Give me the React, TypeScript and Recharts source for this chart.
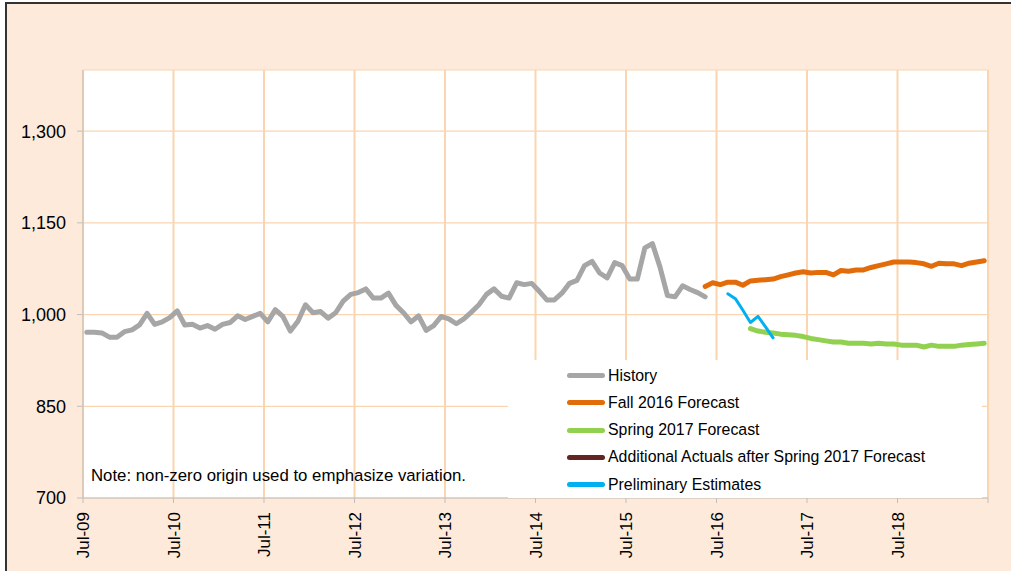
import React from 'react';
import { LineChart, Line, XAxis, YAxis, CartesianGrid, Legend } from 'recharts';

const tickLabels = ['Jul-09', 'Jul-10', 'Jul-11', 'Jul-12', 'Jul-13', 'Jul-14', 'Jul-15', 'Jul-16', 'Jul-17', 'Jul-18'];
const yTicks = [700, 850, 1000, 1150, 1300];
const seriesNames = [
  'History',
  'Fall 2016 Forecast',
  'Spring 2017 Forecast',
  'Additional Actuals after Spring 2017 Forecast',
  'Preliminary Estimates',
];

const history = [
  971, 971, 970, 963, 963, 972, 975, 983, 1002, 984, 988, 995,
  1006, 983, 984, 978, 982, 976, 984, 987, 998, 992, 997, 1002,
  988, 1008, 997, 973, 989, 1016, 1003, 1005, 994, 1003, 1022, 1033,
  1036, 1042, 1027, 1027, 1035, 1015, 1003, 988, 998, 974, 982, 997,
  993, 985, 993, 1004, 1016, 1033, 1042, 1030, 1027, 1052, 1049, 1051,
  1038, 1024, 1024, 1035, 1051, 1056, 1080, 1087, 1068, 1060, 1085, 1080,
  1058, 1058, 1109, 1116, 1078, 1031, 1029, 1047, 1041, 1036, 1029,
];
const fall2016 = [
  1046, 1052, 1049, 1053, 1053, 1048, 1055, 1056, 1057, 1058, 1062, 1065,
  1068, 1070, 1068, 1069, 1069, 1065, 1072, 1071, 1073, 1073, 1077, 1080,
  1083, 1086, 1086, 1086, 1085, 1083, 1079, 1084, 1083, 1083, 1080, 1084,
  1086, 1088,
];
const spring2017 = [
  977, 973, 971, 970, 968, 967, 966, 964, 961, 959, 957, 955,
  955, 953, 953, 953, 952, 953, 952, 952, 950, 950, 950, 947,
  950, 948, 948, 948, 950, 951, 952, 953,
];
const additionalActuals: number[] = [];
const preliminary = [1034, 1026, 1007, 987, 997, 980, 962];

const HISTORY_START = 0;
const FALL_START = 82;
const SPRING_START = 88;
const ADDITIONAL_START = 119;
const PRELIM_START = 85;
const MONTHS = 120;

const pick = (arr: number[], start: number, k: number) => {
  const v = arr[k - start];
  return v === undefined ? null : v;
};

const data = Array.from({ length: MONTHS }, (_, k) => ({
  t: k + 0.5,
  history: pick(history, HISTORY_START, k),
  fall: pick(fall2016, FALL_START, k),
  spring: pick(spring2017, SPRING_START, k),
  additional: pick(additionalActuals, ADDITIONAL_START, k),
  prelim: pick(preliminary, PRELIM_START, k),
}));

const xTicks = Array.from({ length: tickLabels.length + 1 }, (_, i) => i * 12);

const FONT = '"Liberation Sans", Arial, sans-serif';
const GRID = '#FAD5B0';

const XTick = (props: any) => {
  const { x, y, payload } = props;
  const label = tickLabels[payload.value / 12] ?? '';
  return (
    <text
      x={x}
      y={y}
      transform={`rotate(-90, ${x}, ${y})`}
      textAnchor="end"
      dy="0.36em"
      fontSize={17}
      fontFamily={FONT}
      fill="#000"
    >
      {label}
    </text>
  );
};

const renderLegend = (props: any) => {
  const items = [...(props.payload || [])].sort(
    (a: any, b: any) => seriesNames.indexOf(a.value) - seriesNames.indexOf(b.value)
  );
  return (
    <div style={{ width: 474, height: 138, background: '#fff', position: 'relative', fontFamily: FONT }}>
      {items.map((p: any, i: number) => (
        <div
          key={i}
          style={{
            position: 'absolute',
            left: 59,
            top: 15.5 + i * 27.3 - 10,
            height: 20,
            display: 'flex',
            alignItems: 'center',
            whiteSpace: 'nowrap',
          }}
        >
          <span style={{ display: 'inline-block', width: 38, height: 5, borderRadius: 2.5, background: p.color }} />
          <span style={{ marginLeft: 3, fontSize: 15.85, color: '#000' }}>{p.value}</span>
        </div>
      ))}
    </div>
  );
};

export default function App() {
  return (
    <div style={{ position: 'absolute', left: 0, top: 0, width: 1011, height: 571, background: '#fff', overflow: 'hidden' }}>
      <div
        style={{
          position: 'absolute',
          left: 5,
          top: 2,
          width: 1006,
          height: 569,
          background: '#FDEADA',
          borderLeft: '2px solid #333',
          borderTop: '2px solid #333',
          boxSizing: 'border-box',
        }}
      />
      <div style={{ position: 'absolute', left: 0, top: 0 }}>
        <LineChart width={1011} height={571} data={data} margin={{ top: 70, right: 23, bottom: 0, left: 0 }}>
          <CartesianGrid horizontal={true} vertical={false} fill="#fff" stroke={GRID} strokeWidth={1.2} />
          <CartesianGrid horizontal={false} vertical={true} stroke={GRID} strokeWidth={2} />
          <XAxis
            dataKey="t"
            type="number"
            domain={[0, 120]}
            ticks={xTicks}
            interval={0}
            height={73}
            tickSize={5}
            tickMargin={9}
            tick={<XTick />}
            axisLine={{ stroke: '#BFBFBF' }}
            tickLine={{ stroke: '#BFBFBF' }}
          />
          <YAxis
            type="number"
            domain={[700, 1400]}
            ticks={yTicks}
            interval={0}
            width={83}
            tickSize={6}
            tickMargin={11}
            tickFormatter={(v: number) => v.toLocaleString('en-US')}
            tick={{ fontSize: 18, fontFamily: FONT, fill: '#000' }}
            axisLine={{ stroke: '#BFBFBF' }}
            tickLine={{ stroke: '#BFBFBF' }}
          />
          <Legend
            layout="vertical"
            align="center"
            verticalAlign="middle"
            content={renderLegend}
            wrapperStyle={{ left: 508, top: 360, width: 474, height: 138 }}
          />
          <Line name={seriesNames[0]} dataKey="history" stroke="#A6A6A6" strokeWidth={5} dot={false} isAnimationActive={false} strokeLinejoin="round" strokeLinecap="round" />
          <Line name={seriesNames[1]} dataKey="fall" stroke="#E36C0A" strokeWidth={5} dot={false} isAnimationActive={false} strokeLinejoin="round" strokeLinecap="round" />
          <Line name={seriesNames[2]} dataKey="spring" stroke="#92D050" strokeWidth={5} dot={false} isAnimationActive={false} strokeLinejoin="round" strokeLinecap="round" />
          <Line name={seriesNames[3]} dataKey="additional" stroke="#632523" strokeWidth={5} dot={false} isAnimationActive={false} strokeLinejoin="round" strokeLinecap="round" />
          <Line name={seriesNames[4]} dataKey="prelim" stroke="#00B0F0" strokeWidth={3} dot={false} isAnimationActive={false} strokeLinejoin="round" strokeLinecap="round" />
        </LineChart>
      </div>
      <div
        style={{
          position: 'absolute',
          left: 91,
          top: 466,
          fontSize: 16.8,
          fontFamily: FONT,
          color: '#000',
          whiteSpace: 'nowrap',
          pointerEvents: 'none',
        }}
      >
        Note: non-zero origin used to emphasize variation.
      </div>
    </div>
  );
}
